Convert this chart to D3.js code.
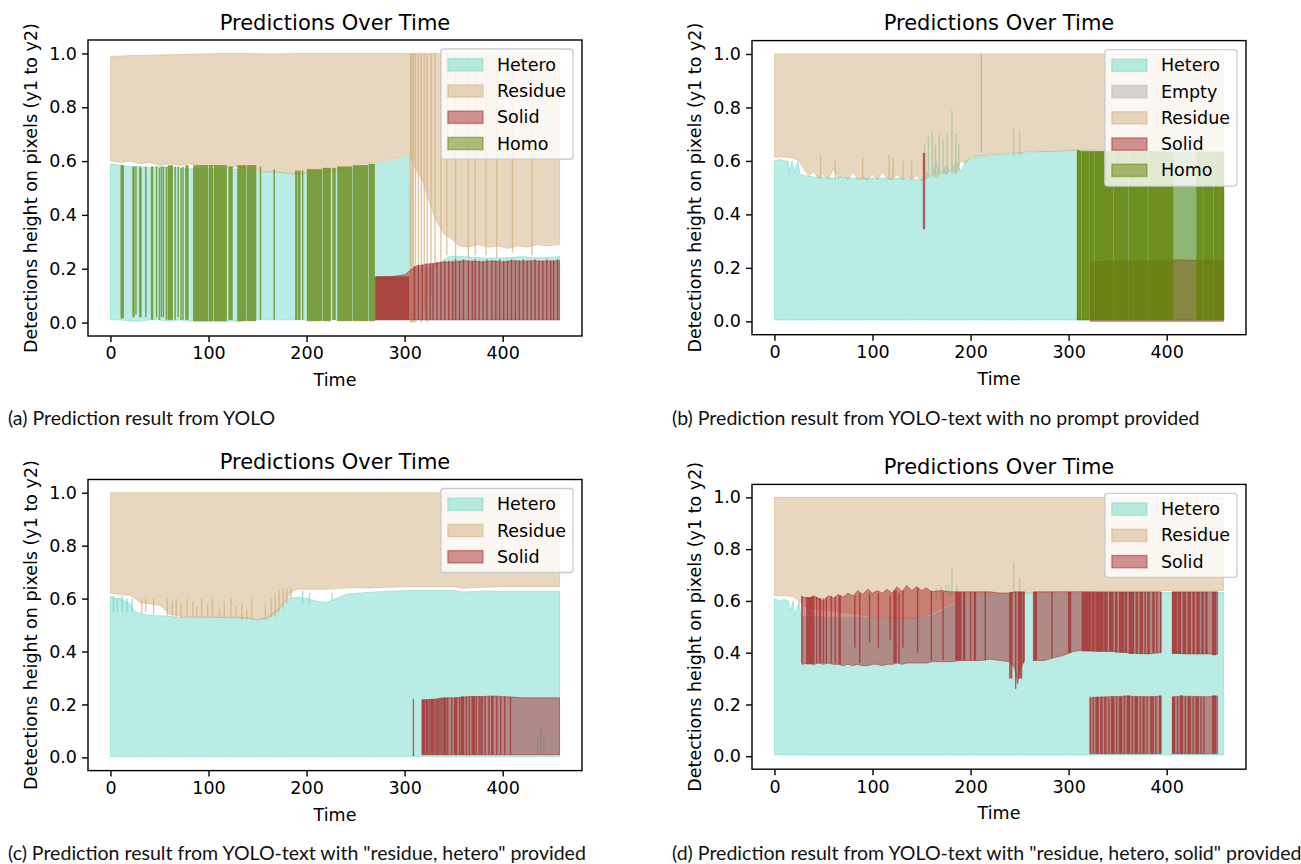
<!DOCTYPE html>
<html><head><meta charset="utf-8">
<script src="https://cdn.jsdelivr.net/npm/d3@7"></script>
<style>body{margin:0;background:#fff}svg{display:block}</style>
</head><body>
<svg id="fig" width="1301" height="864"></svg>
<script>
// ---------------- text ----------------
const titleText = "Predictions Over Time";
const xLabelText = "Time";
const yLabelText = "Detections height on pixels (y1 to y2)";
const xTicks = [0, 100, 200, 300, 400];
const yTicks = [0.0, 0.2, 0.4, 0.6, 0.8, 1.0];
const captionA = "(a) Prediction result from YOLO";
const captionB = "(b) Prediction result from YOLO-text with no prompt provided";
const captionC = "(c) Prediction result from YOLO-text with \"residue, hetero\" provided";
const captionD = "(d) Prediction result from YOLO-text with \"residue, hetero, solid\" provided";
const legendA = ["Hetero", "Residue", "Solid", "Homo"];
const legendB = ["Hetero", "Empty", "Residue", "Solid", "Homo"];
const legendC = ["Hetero", "Residue", "Solid"];
const legendD = ["Hetero", "Residue", "Solid"];

// ---------------- data: bands = [t, y1, y2] ; bars = [t0, t1, y1, y2] ----------------
// Panel (a)
const heteroA_bands = [[[0,0.01,0.59],[10,0.01,0.585],[20,0.005,0.58],[30,0.005,0.58],[40,0.01,0.575],[50,0.01,0.58],[60,0.005,0.575],[70,0.01,0.575],[80,0.005,0.57],[90,0.005,0.575],[100,0.005,0.57],[110,0.005,0.575],[120,0.005,0.57],[130,0.005,0.57],[140,0.01,0.565],[150,0.01,0.56],[160,0.01,0.56],[170,0.01,0.56],[180,0.01,0.555],[190,0.01,0.555],[200,0.01,0.555],[210,0.01,0.555],[220,0.01,0.56],[230,0.01,0.565],[240,0.01,0.57],[250,0.01,0.575],[260,0.01,0.585],[270,0.01,0.59],[280,0.01,0.595],[290,0.01,0.605],[300,0.01,0.615],[305,0.01,0.625],[306,0.01,0.2],[320,0.01,0.2],[335,0.01,0.22],[345,0.01,0.245],[360,0.01,0.245],[380,0.01,0.24],[400,0.01,0.24],[420,0.01,0.245],[440,0.01,0.24],[458,0.01,0.245]]];
const heteroA_bars = [];
const residueA_bands = [[[0,0.6,0.99],[10,0.595,0.99],[20,0.6,0.992],[30,0.59,0.993],[40,0.595,0.993],[50,0.585,0.995],[60,0.59,0.995],[70,0.585,0.996],[80,0.59,0.997],[90,0.585,0.998],[100,0.58,0.998],[110,0.585,1.0],[120,0.575,1.0],[130,0.58,1.0],[140,0.57,1.0],[150,0.565,0.999],[160,0.56,0.998],[170,0.56,0.998],[180,0.555,0.999],[190,0.55,1.0],[200,0.555,1.0],[210,0.56,1.0],[220,0.56,1.0],[230,0.565,1.0],[240,0.575,1.0],[250,0.58,1.0],[260,0.59,1.0],[270,0.595,1.0],[280,0.6,1.0],[290,0.61,1.0],[300,0.62,1.0],[305,0.63,1.0],[310,0.58,1.0],[318,0.53,1.0],[325,0.45,1.0],[332,0.38,1.0],[340,0.33,1.0],[348,0.31,1.0],[355,0.285,1.0],[365,0.28,1.0],[375,0.29,1.0],[385,0.28,1.0],[395,0.285,1.0],[405,0.275,1.0],[415,0.285,1.0],[425,0.28,1.0],[435,0.29,1.0],[445,0.285,1.0],[458,0.29,1.0]]];
const residueA_bars = [[306,309,0.0,1.0],[311,311,0.0,1.0],[314,314,0.02,1.0],[317,317,0.0,1.0],[320,320,0.05,1.0],[323,323,0.0,1.0],[327,327,0.1,1.0],[331,331,0.2,1.0],[337,337,0.22,1.0],[343,343,0.25,1.0],[352,352,0.22,1.0],[365,365,0.24,1.0],[372,372,0.25,1.0],[383,383,0.25,1.0],[394,394,0.24,1.0],[410,410,0.26,1.0],[430,430,0.25,1.0]];
const solidA_bands = [[[270,0.01,0.168],[280,0.01,0.17],[290,0.01,0.172],[300,0.01,0.178],[306,0.01,0.195],[312,0.01,0.21],[320,0.01,0.215],[330,0.01,0.22],[340,0.01,0.225],[350,0.01,0.225],[360,0.01,0.23],[370,0.01,0.228],[380,0.01,0.225],[390,0.01,0.23],[400,0.01,0.225],[410,0.01,0.23],[420,0.01,0.228],[430,0.01,0.23],[440,0.01,0.228],[458,0.01,0.23]]];
const solidA_bars = [[271,304,0.01,0.172],[310,310,0.01,0.21],[314,314,0.01,0.215],[318,318,0.01,0.215],[322,322,0.01,0.22],[326,326,0.01,0.22],[329,329,0.01,0.22],[333,333,0.01,0.225],[337,337,0.01,0.225],[341,341,0.01,0.23],[345,345,0.01,0.23],[349,349,0.01,0.23],[352,352,0.01,0.235],[356,356,0.01,0.23],[360,360,0.01,0.235],[365,365,0.01,0.23],[369,369,0.01,0.23],[372,372,0.01,0.235],[376,376,0.01,0.23],[380,380,0.01,0.23],[384,384,0.01,0.235],[389,389,0.01,0.23],[393,393,0.01,0.23],[397,397,0.01,0.235],[401,401,0.01,0.23],[405,405,0.01,0.23],[409,409,0.01,0.235],[413,413,0.01,0.23],[417,417,0.01,0.23],[421,421,0.01,0.235],[425,425,0.01,0.23],[429,429,0.01,0.23],[433,433,0.01,0.235],[437,437,0.01,0.23],[441,441,0.01,0.23],[445,445,0.01,0.235],[449,449,0.01,0.23],[452,452,0.01,0.23],[456,456,0.01,0.235]];
const homoA_bands = [];
const homoA_bars = [[11,13,0.015,0.585],[23,24,0.02,0.58],[26,26,0.03,0.58],[30,30,0.02,0.58],[31,31,0.02,0.575],[36,36,0.02,0.58],[42,43,0.01,0.58],[47,47,0.02,0.58],[50,50,0.01,0.575],[52,52,0.02,0.58],[54,54,0.02,0.58],[57,57,0.01,0.58],[59,63,0.01,0.585],[66,66,0.01,0.58],[69,69,0.02,0.58],[72,72,0.01,0.575],[74,74,0.01,0.58],[77,79,0.01,0.585],[85,99,0.005,0.585],[101,104,0.005,0.585],[106,118,0.005,0.585],[121,124,0.01,0.58],[130,138,0.005,0.585],[140,148,0.005,0.585],[153,153,0.01,0.58],[167,167,0.01,0.57],[189,190,0.01,0.565],[192,193,0.01,0.565],[196,196,0.01,0.565],[201,215,0.005,0.57],[217,224,0.005,0.575],[227,229,0.01,0.575],[232,246,0.005,0.58],[248,262,0.005,0.585],[264,269,0.005,0.59]];

// Panel (b)
const heteroB_bands = [[[0,0.005,0.6],[5,0.005,0.605],[10,0.005,0.6],[14,0.005,0.6],[15,0.005,0.56],[18,0.005,0.6],[20,0.005,0.56],[24,0.005,0.6],[26,0.005,0.55],[30,0.005,0.545],[40,0.005,0.54],[50,0.005,0.54],[60,0.005,0.535],[70,0.005,0.54],[80,0.005,0.535],[90,0.005,0.535],[100,0.005,0.535],[110,0.005,0.535],[120,0.005,0.535],[130,0.005,0.535],[140,0.005,0.53],[150,0.005,0.53],[155,0.005,0.56],[160,0.005,0.54],[165,0.005,0.6],[170,0.005,0.55],[175,0.005,0.58],[180,0.005,0.56],[185,0.005,0.6],[190,0.005,0.56],[195,0.005,0.6],[200,0.005,0.61],[205,0.005,0.615],[210,0.005,0.62],[220,0.005,0.62],[230,0.005,0.625],[240,0.005,0.625],[250,0.005,0.63],[260,0.005,0.63],[270,0.005,0.635],[280,0.005,0.635],[290,0.005,0.635],[300,0.005,0.64],[310,0.005,0.64],[340,0.005,0.635],[380,0.005,0.635],[420,0.005,0.635],[458,0.005,0.635]]];
const heteroB_bars = [[153,153,0.55,0.66],[157,157,0.55,0.69],[161,161,0.55,0.71],[164,164,0.55,0.66],[168,168,0.55,0.7],[172,172,0.55,0.68],[176,176,0.55,0.7],[181,181,0.55,0.79],[185,185,0.56,0.7],[188,188,0.56,0.66],[244,244,0.62,0.72],[250,250,0.62,0.71]];
const emptyB_bars = [[211,211,0.63,1.0]];
const residueB_bands = [[[0,0.615,1.0],[10,0.615,1.0],[20,0.61,1.0],[25,0.6,1.0],[30,0.57,1.0],[35,0.545,1.0],[40,0.56,1.0],[45,0.535,1.0],[50,0.55,1.0],[55,0.53,1.0],[60,0.57,1.0],[65,0.535,1.0],[70,0.545,1.0],[75,0.53,1.0],[80,0.56,1.0],[85,0.53,1.0],[90,0.535,1.0],[95,0.53,1.0],[100,0.55,1.0],[105,0.53,1.0],[110,0.56,1.0],[115,0.535,1.0],[120,0.53,1.0],[125,0.55,1.0],[130,0.53,1.0],[135,0.54,1.0],[140,0.53,1.0],[145,0.545,1.0],[150,0.525,1.0],[155,0.53,1.0],[160,0.55,1.0],[165,0.535,1.0],[170,0.56,1.0],[175,0.55,1.0],[180,0.57,1.0],[185,0.55,1.0],[190,0.6,1.0],[195,0.59,1.0],[200,0.615,1.0],[210,0.62,1.0],[220,0.625,1.0],[230,0.625,1.0],[240,0.63,1.0],[250,0.63,1.0],[260,0.635,1.0],[280,0.635,1.0],[300,0.64,1.0],[320,0.64,1.0],[340,0.64,1.0],[360,0.64,1.0],[380,0.64,1.0],[400,0.64,1.0],[420,0.64,1.0],[440,0.64,1.0],[458,0.64,1.0]]];
const residueB_bars = [[47,47,0.53,0.62],[62,62,0.53,0.6],[90,90,0.53,0.61],[117,117,0.53,0.62],[121,121,0.53,0.61],[131,131,0.53,0.6],[140,140,0.53,0.6]];
const solidB_bands = [[[322,0.0,0.22],[340,0.0,0.225],[360,0.0,0.225],[380,0.0,0.225],[400,0.0,0.225],[410,0.0,0.23],[430,0.0,0.228],[458,0.0,0.225]]];
const solidB_bars = [[152,153,0.345,0.63]];
const homoB_bands = [[[309,0.005,0.635],[340,0.005,0.635],[380,0.005,0.635],[420,0.005,0.632],[458,0.005,0.632]]];
const homoB_bars = [[309,311,0.005,0.64],[312,312,0.005,0.635],[314,320,0.005,0.635],[322,325,0.005,0.635],[327,345,0.005,0.635],[347,360,0.005,0.635],[362,380,0.005,0.635],[382,406,0.005,0.635],[431,436,0.005,0.635],[438,447,0.005,0.635],[449,458,0.005,0.635]];

// Panel (c)
const heteroC_bands = [[[0,0.003,0.61],[5,0.003,0.6],[10,0.003,0.6],[15,0.003,0.59],[20,0.003,0.58],[25,0.003,0.55],[35,0.003,0.54],[45,0.003,0.535],[55,0.003,0.535],[65,0.003,0.53],[75,0.003,0.53],[85,0.003,0.53],[95,0.003,0.53],[105,0.003,0.53],[115,0.003,0.53],[125,0.003,0.53],[135,0.003,0.53],[145,0.003,0.525],[150,0.003,0.52],[160,0.003,0.53],[170,0.003,0.56],[175,0.003,0.58],[180,0.003,0.6],[190,0.003,0.605],[200,0.003,0.6],[210,0.003,0.59],[220,0.003,0.585],[230,0.003,0.6],[240,0.003,0.615],[250,0.003,0.62],[270,0.003,0.625],[300,0.003,0.63],[350,0.003,0.63],[360,0.003,0.625],[380,0.003,0.628],[400,0.003,0.628],[430,0.003,0.628],[458,0.003,0.628]]];
const heteroC_bars = [[3,3,0.55,0.61],[7,7,0.55,0.6],[12,12,0.55,0.61],[17,17,0.55,0.6],[22,22,0.55,0.6],[196,196,0.58,0.63],[203,203,0.58,0.62],[226,226,0.59,0.62],[436,436,0.01,0.08],[439,439,0.01,0.11],[442,442,0.01,0.07]];
const residueC_bands = [[[0,0.62,1.0],[10,0.615,1.0],[20,0.612,1.0],[25,0.6,1.0],[30,0.585,1.0],[40,0.58,1.0],[50,0.575,1.0],[55,0.56,1.0],[60,0.54,1.0],[70,0.535,1.0],[80,0.53,1.0],[100,0.53,1.0],[120,0.528,1.0],[140,0.525,1.0],[150,0.52,1.0],[160,0.525,1.0],[170,0.55,1.0],[180,0.6,1.0],[185,0.625,1.0],[190,0.635,1.0],[200,0.635,1.0],[220,0.635,1.0],[240,0.64,1.0],[260,0.64,1.0],[300,0.645,1.0],[350,0.645,1.0],[360,0.64,1.0],[400,0.645,1.0],[430,0.645,1.0],[458,0.645,1.0]]];
const residueC_bars = [[32,32,0.545,0.6],[36,36,0.55,0.6],[44,44,0.54,0.6],[58,58,0.535,0.6],[63,63,0.53,0.59],[67,67,0.53,0.6],[72,72,0.53,0.58],[78,78,0.53,0.6],[84,84,0.53,0.59],[88,88,0.53,0.57],[93,93,0.53,0.6],[99,99,0.53,0.58],[104,104,0.53,0.6],[111,111,0.53,0.56],[116,116,0.53,0.59],[123,123,0.53,0.6],[128,128,0.53,0.57],[134,134,0.52,0.58],[139,139,0.52,0.56],[144,144,0.52,0.6],[158,158,0.52,0.58],[164,164,0.53,0.6],[168,168,0.53,0.62],[172,172,0.55,0.63],[176,176,0.56,0.64],[180,180,0.58,0.64],[184,184,0.6,0.64]];
const solidC_bands = [[[318,0.01,0.215],[330,0.01,0.22],[340,0.01,0.225],[350,0.01,0.225],[360,0.01,0.228],[370,0.01,0.23],[380,0.01,0.23],[390,0.01,0.232],[400,0.01,0.23],[410,0.01,0.228],[420,0.01,0.225],[440,0.01,0.225],[458,0.01,0.225]]];
const solidC_bars = [[309,309,0.005,0.22],[318,320,0.01,0.22],[322,323,0.01,0.22],[325,325,0.01,0.22],[327,329,0.01,0.22],[331,331,0.01,0.22],[333,334,0.01,0.22],[336,336,0.01,0.225],[338,338,0.01,0.225],[340,342,0.01,0.225],[344,344,0.01,0.225],[348,348,0.01,0.225],[351,353,0.01,0.225],[356,356,0.01,0.225],[358,360,0.01,0.23],[363,363,0.01,0.23],[366,366,0.01,0.23],[369,371,0.01,0.23],[373,373,0.01,0.23],[376,376,0.01,0.23],[378,379,0.01,0.23],[382,382,0.01,0.23],[386,386,0.01,0.23],[389,390,0.01,0.232],[394,394,0.01,0.23],[398,398,0.01,0.23],[402,402,0.01,0.23],[408,408,0.01,0.228]];

// Panel (d)
const heteroD_bands = [[[0,0.005,0.61],[5,0.005,0.6],[10,0.005,0.605],[14,0.005,0.6],[16,0.005,0.56],[19,0.005,0.6],[21,0.005,0.545],[25,0.005,0.6],[27,0.005,0.54],[40,0.005,0.54],[60,0.005,0.535],[80,0.005,0.535],[100,0.005,0.535],[120,0.005,0.535],[140,0.005,0.535],[160,0.005,0.54],[180,0.005,0.58],[200,0.005,0.62],[220,0.005,0.625],[250,0.005,0.63],[300,0.005,0.63],[350,0.005,0.632],[400,0.005,0.632],[458,0.005,0.632]]];
const heteroD_bars = [[165,165,0.6,0.65],[170,170,0.6,0.655],[175,175,0.62,0.66],[178,178,0.62,0.66],[181,181,0.62,0.73],[186,186,0.62,0.66],[244,244,0.62,0.75],[250,250,0.62,0.69]];
const residueD_bands = [[[0,0.62,1.0],[10,0.62,1.0],[20,0.615,1.0],[25,0.6,1.0],[30,0.58,1.0],[40,0.57,1.0],[60,0.56,1.0],[80,0.55,1.0],[100,0.54,1.0],[120,0.535,1.0],[140,0.53,1.0],[160,0.55,1.0],[180,0.59,1.0],[200,0.625,1.0],[220,0.63,1.0],[250,0.63,1.0],[300,0.635,1.0],[350,0.64,1.0],[400,0.64,1.0],[458,0.64,1.0]]];
const residueD_bars = [];
const solidD_bands = [
  [[28,0.355,0.615],[35,0.36,0.61],[40,0.355,0.62],[45,0.36,0.61],[50,0.355,0.6],[55,0.36,0.62],[60,0.355,0.61],[65,0.355,0.625],[70,0.35,0.615],[75,0.355,0.63],[80,0.35,0.62],[85,0.355,0.64],[90,0.35,0.625],[95,0.35,0.645],[100,0.355,0.63],[105,0.355,0.64],[110,0.35,0.63],[115,0.355,0.645],[120,0.355,0.63],[125,0.36,0.655],[130,0.355,0.635],[135,0.36,0.66],[140,0.36,0.64],[145,0.36,0.655],[150,0.36,0.64],[155,0.36,0.65],[160,0.365,0.635],[170,0.365,0.64],[180,0.365,0.635],[190,0.37,0.635],[200,0.37,0.635],[210,0.37,0.635],[220,0.375,0.635],[230,0.37,0.63],[240,0.365,0.63],[245,0.34,0.635],[248,0.28,0.635],[250,0.33,0.635],[255,0.37,0.635]],
  [[264,0.37,0.635],[275,0.37,0.635],[285,0.38,0.635],[295,0.39,0.635],[305,0.405,0.635],[315,0.41,0.635],[330,0.405,0.635],[345,0.405,0.635],[360,0.4,0.635],[380,0.395,0.635],[394,0.4,0.635]],
  [[406,0.4,0.635],[420,0.395,0.635],[440,0.395,0.635],[452,0.395,0.635]],
  [[322,0.01,0.225],[340,0.01,0.23],[360,0.01,0.232],[380,0.01,0.23],[394,0.01,0.232]],
  [[406,0.01,0.23],[420,0.01,0.232],[440,0.01,0.23],[452,0.01,0.232]]
];
const solidD_bars = [[28,28,0.36,0.62],[33,40,0.355,0.615],[43,43,0.36,0.615],[46,47,0.36,0.61],[50,50,0.36,0.61],[53,53,0.36,0.615],[58,58,0.36,0.62],[62,62,0.36,0.615],[66,67,0.355,0.62],[82,82,0.42,0.62],[87,87,0.36,0.63],[97,97,0.44,0.63],[106,106,0.42,0.63],[118,118,0.45,0.62],[122,124,0.36,0.64],[127,127,0.36,0.63],[131,131,0.42,0.64],[146,146,0.4,0.65],[160,160,0.37,0.64],[172,172,0.37,0.635],[185,190,0.37,0.635],[193,194,0.37,0.635],[200,200,0.37,0.635],[204,205,0.37,0.635],[215,215,0.37,0.635],[240,242,0.3,0.635],[246,246,0.26,0.635],[249,252,0.3,0.635],[254,254,0.36,0.635],[265,267,0.37,0.635],[283,283,0.38,0.635],[300,302,0.4,0.635],[314,322,0.405,0.635],[324,326,0.405,0.635],[328,335,0.405,0.635],[337,339,0.405,0.635],[342,345,0.405,0.635],[348,349,0.4,0.635],[352,356,0.4,0.635],[358,359,0.4,0.635],[362,366,0.395,0.635],[369,370,0.395,0.635],[373,375,0.395,0.635],[378,378,0.395,0.635],[381,382,0.395,0.635],[386,387,0.4,0.635],[390,390,0.4,0.635],[394,394,0.4,0.635],[406,410,0.395,0.635],[412,414,0.395,0.635],[417,419,0.395,0.635],[422,424,0.395,0.635],[427,428,0.395,0.635],[431,433,0.395,0.635],[436,437,0.395,0.635],[440,441,0.395,0.635],[447,450,0.39,0.635],
  [322,322,0.01,0.23],[325,325,0.01,0.23],[328,330,0.01,0.23],[333,334,0.01,0.23],[337,338,0.01,0.23],[341,341,0.01,0.225],[344,346,0.01,0.23],[349,349,0.01,0.23],[352,354,0.01,0.23],[357,357,0.01,0.235],[360,362,0.01,0.235],[365,365,0.01,0.23],[368,370,0.01,0.23],[373,373,0.01,0.23],[376,377,0.01,0.23],[380,380,0.01,0.23],[384,386,0.01,0.23],[389,389,0.01,0.23],[393,394,0.01,0.235],[406,408,0.01,0.23],[411,411,0.01,0.23],[414,416,0.01,0.235],[419,419,0.01,0.23],[422,424,0.01,0.23],[427,427,0.01,0.23],[430,432,0.01,0.23],[435,435,0.01,0.23],[438,438,0.01,0.23],[447,450,0.01,0.235]];

// ---------------- styles / layout ----------------
const colors = {Hetero:"#71d9c9", Empty:"#b1b1b1", Residue:"#d2b080", Solid:"#a52a2a", Homo:"#618101"};
const panels = [
  {left:88, right:582, top:40, bottom:336, caption:captionA, capX:8, capY:425, legend:legendA,
   layers:[["Hetero",heteroA_bands,heteroA_bars],["Residue",residueA_bands,residueA_bars],["Solid",solidA_bands,solidA_bars],["Homo",homoA_bands,homoA_bars]]},
  {left:752, right:1246, top:40.6, bottom:334.7, caption:captionB, capX:672, capY:425, legend:legendB,
   layers:[["Hetero",heteroB_bands,heteroB_bars],["Empty",[],emptyB_bars],["Residue",residueB_bands,residueB_bars],["Solid",solidB_bands,solidB_bars],["Homo",homoB_bands,homoB_bars]]},
  {left:88, right:582, top:479.5, bottom:770.6, caption:captionC, capX:8, capY:860, legend:legendC,
   layers:[["Hetero",heteroC_bands,heteroC_bars],["Residue",residueC_bands,residueC_bars],["Solid",solidC_bands,solidC_bars]]},
  {left:752, right:1246, top:484.4, bottom:769.2, caption:captionD, capX:672, capY:860, legend:legendD,
   layers:[["Hetero",heteroD_bands,heteroD_bars],["Residue",residueD_bands,residueD_bars],["Solid",solidD_bands,solidD_bars]]}
];

const FONT = "'DejaVu Sans', sans-serif";
const FS = 17.5;
const svg = d3.select("#fig");

panels.forEach((P, pi) => {
  const g = svg.append("g");
  const x = d3.scaleLinear().domain([-22.9, 480.9]).range([P.left, P.right]);
  const y = d3.scaleLinear().domain([-0.05, 1.05]).range([P.bottom, P.top]);
  const clipId = "clip" + pi;
  g.append("clipPath").attr("id", clipId).append("rect")
    .attr("x", P.left).attr("y", P.top).attr("width", P.right - P.left).attr("height", P.bottom - P.top);
  const plot = g.append("g").attr("clip-path", `url(#${clipId})`);
  const area = d3.area().x(d => x(d[0])).y0(d => y(d[1])).y1(d => y(d[2]));

  P.layers.forEach(([cls, bands, bars]) => {
    const c = colors[cls];
    plot.append("g").selectAll("path").data(bands).join("path")
      .attr("d", area).attr("fill", c).attr("fill-opacity", 0.5)
      .attr("stroke", c).attr("stroke-opacity", 0.5).attr("stroke-width", 1);
    plot.append("g").selectAll("rect").data(bars).join("rect")
      .attr("x", d => x(d[0]) - 0.7)
      .attr("width", d => Math.max(x(d[1]) - x(d[0]) + 1.4, 1.4))
      .attr("y", d => y(d[3]))
      .attr("height", d => y(d[2]) - y(d[3]))
      .attr("fill", c).attr("fill-opacity", 0.72);
  });

  // axes
  const ax = g.append("g").attr("transform", `translate(0,${P.bottom})`)
    .call(d3.axisBottom(x).tickValues(xTicks).tickFormat(d3.format("d")).tickSize(6).tickPadding(5));
  const ay = g.append("g").attr("transform", `translate(${P.left},0)`)
    .call(d3.axisLeft(y).tickValues(yTicks).tickFormat(d3.format(".1f")).tickSize(6).tickPadding(5));
  [ax, ay].forEach(a => {
    a.select(".domain").remove();
    a.selectAll("line").attr("stroke", "#000").attr("stroke-width", 1.4);
    a.selectAll("text").attr("font-family", FONT).attr("font-size", FS).attr("fill", "#000");
  });
  g.append("rect").attr("x", P.left).attr("y", P.top).attr("width", P.right - P.left).attr("height", P.bottom - P.top)
    .attr("fill", "none").attr("stroke", "#000").attr("stroke-width", 1.4);

  const cx = (P.left + P.right) / 2;
  g.append("text").attr("x", cx).attr("y", P.top - 10.5).attr("text-anchor", "middle")
    .attr("font-family", FONT).attr("font-size", 21).text(titleText);
  g.append("text").attr("x", cx).attr("y", P.bottom + 50).attr("text-anchor", "middle")
    .attr("font-family", FONT).attr("font-size", FS).text(xLabelText);
  const cyy = (P.top + P.bottom) / 2;
  g.append("text").attr("transform", `translate(${P.left - 57},${cyy}) rotate(-90)`)
    .attr("text-anchor", "middle").attr("dominant-baseline", "central")
    .attr("font-family", FONT).attr("font-size", FS).text(yLabelText);

  // legend
  const lg = g.append("g");
  const frame = lg.append("rect");
  const texts = P.legend.map(n => lg.append("text").attr("font-family", FONT).attr("font-size", FS).text(n));
  const tw = d3.max(texts, t => t.node().getComputedTextLength());
  const pad = 0.4 * FS, hw = 2 * FS, hh = 0.7 * FS, gap = 0.8 * FS, rowH = 1.5 * FS;
  const W = pad + hw + gap + tw + pad;
  const H = 2 * pad + P.legend.length * FS + (P.legend.length - 1) * 0.5 * FS;
  const lx = P.right - 9 - W, ly = P.top + 9;
  frame.attr("x", lx).attr("y", ly).attr("width", W).attr("height", H).attr("rx", 3)
    .attr("fill", "#ffffff").attr("fill-opacity", 0.8).attr("stroke", "#cccccc").attr("stroke-width", 1.4);
  P.legend.forEach((n, i) => {
    const rc = ly + pad + FS / 2 + i * rowH;
    lg.append("rect").attr("x", lx + pad).attr("y", rc - hh / 2).attr("width", hw).attr("height", hh)
      .attr("fill", colors[n]).attr("fill-opacity", 0.5).attr("stroke", colors[n]).attr("stroke-opacity", 0.5).attr("stroke-width", 1.4);
    texts[i].attr("x", lx + pad + hw + gap).attr("y", rc).attr("dominant-baseline", "central");
    texts[i].raise();
  });
});

// captions
const capNodes = panels.map(P => svg.append("text").attr("x", P.capX).attr("y", P.capY)
  .attr("font-family", "Lato, 'Open Sans', sans-serif").attr("font-size", 17).attr("fill", "#111").text(P.caption));
const wc = capNodes[2].node().getComputedTextLength();
const capFS = 17 * 578 / wc;
capNodes.forEach(n => n.attr("font-size", capFS));
</script>
</body></html>
